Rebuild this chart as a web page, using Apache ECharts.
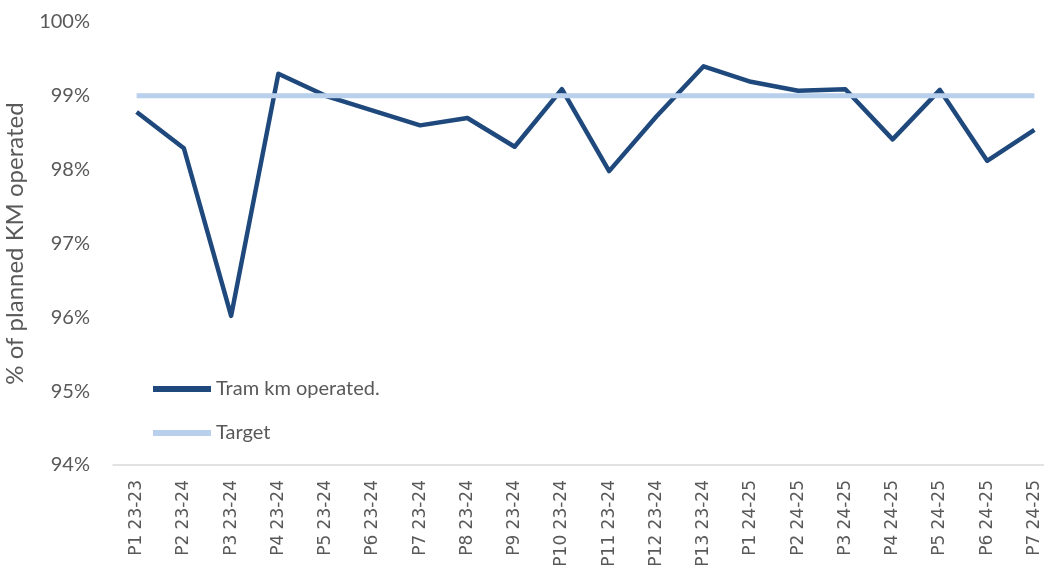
<!DOCTYPE html>
<html>
<head>
<meta charset="utf-8">
<script src="https://cdn.jsdelivr.net/npm/echarts@6/dist/echarts.min.js"></script>
<style>
  html, body { margin: 0; padding: 0; background: #fff; }
  #chart { width: 1044px; height: 579px; }
</style>
</head>
<body>
<div id="chart"></div>
<script>
// periods on the x axis
const periods = [
    "P1 23-23", "P2 23-24", "P3 23-24", "P4 23-24", "P5 23-24", "P6 23-24", "P7 23-24",
    "P8 23-24", "P9 23-24", "P10 23-24", "P11 23-24", "P12 23-24", "P13 23-24",
    "P1 24-25", "P2 24-25", "P3 24-25", "P4 24-25", "P5 24-25", "P6 24-25", "P7 24-25"
];
// % of planned km operated
const tramKm = [98.78, 98.29, 96.02, 99.30, 99.00, 98.80, 98.60, 98.70, 98.31, 99.09,
    97.98, 98.72, 99.40, 99.19, 99.07, 99.09, 98.41, 99.08, 98.12, 98.54];
const target = periods.map(function () { return 99; });

let myChart = echarts.init(document.getElementById("chart"));
let option = {
    animation: false,
    grid: {
        left: 113,
        width: 945,
        top: 22,
        bottom: 114,
        outerBoundsMode: "none"
    },
    legend: {
        orient: "vertical",
        left: 148,
        top: 374,
        itemWidth: 58,
        itemHeight: 14,
        itemGap: 24,
        textStyle: {
            color: "#595959",
            fontSize: 20,
            fontFamily: "Lato"
        },
        data: [
            { name: "Tram km operated.", icon: "path://M0,0 L10,0 L10,1 L0,1 Z" },
            { name: "Target", icon: "path://M0,0 L10,0 L10,1 L0,1 Z" }
        ]
    },
    xAxis: {
        type: "category",
        data: periods,
        boundaryGap: true,
        axisTick: { show: false },
        axisLine: {
            lineStyle: { color: "#d9d9d9", width: 1.5 }
        },
        axisLabel: {
            rotate: 90,
            interval: 0,
            margin: 15,
            color: "#595959",
            fontSize: 17,
            fontFamily: "DejaVu Sans"
        }
    },
    yAxis: {
        type: "value",
        min: 94,
        max: 100,
        interval: 1,
        name: "% of planned KM operated",
        nameLocation: "middle",
        nameGap: 86,
        nameTextStyle: {
            color: "#595959",
            fontSize: 24,
            fontFamily: "Lato"
        },
        axisLine: { show: false },
        axisTick: { show: false },
        splitLine: { show: false },
        axisLabel: {
            margin: 23,
            color: "#595959",
            fontSize: 20,
            fontFamily: "Lato",
            formatter: "{value}%"
        }
    },
    series: [
        {
            name: "Tram km operated.",
            type: "line",
            data: tramKm,
            symbol: "none",
            z: 2,
            itemStyle: { color: "#1f497d" },
            lineStyle: { color: "#1f497d", width: 4.5, join: "round" }
        },
        {
            name: "Target",
            type: "line",
            data: target,
            symbol: "none",
            z: 3,
            itemStyle: { color: "#b9d0ec" },
            lineStyle: { color: "#b9d0ec", width: 5 }
        }
    ]
};
myChart.setOption(option);
window.addEventListener("resize", function () {
    myChart.resize();
});
</script>
</body>
</html>
